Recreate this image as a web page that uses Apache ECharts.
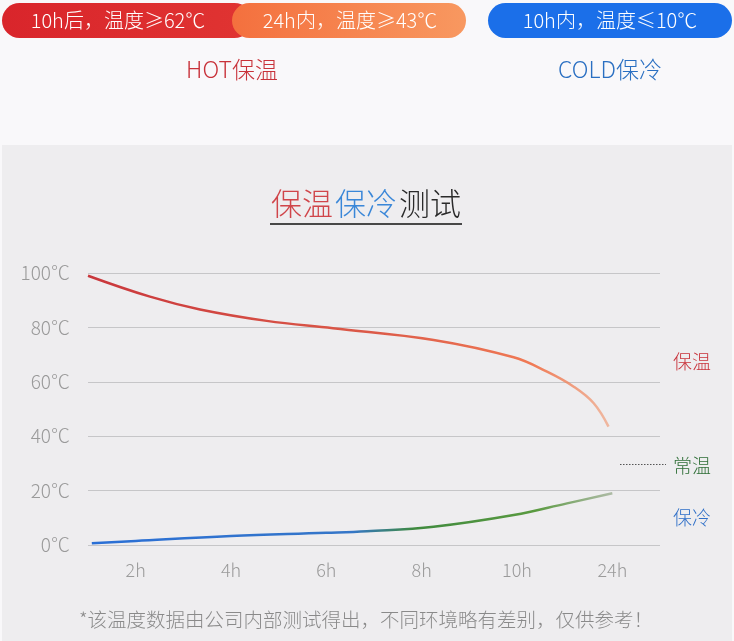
<!DOCTYPE html>
<html><head><meta charset="utf-8">
<script src="https://cdn.jsdelivr.net/npm/echarts@6/dist/echarts.min.js"></script>
<style>html,body{margin:0;padding:0;background:#f9f8fa;}#c{width:734px;height:641px;}</style>
</head><body><div id="c"></div>
<script>
// ---- data ----
var xTickPos = [1, 3, 5, 7, 9, 11];
var xTickLabels = ['2h', '4h', '6h', '8h', '10h', '24h'];
var yTicks = [0, 20, 40, 60, 80, 100];
var hotPos  = [0, 1.3, 2.35, 3.75, 5.14, 7.25, 8.93, 9.63, 10.19, 10.61, 10.92];
var hotTemp = [99, 91.3, 86.6, 82.4, 79.7, 75.4, 69, 63.7, 58.2, 52.1, 43.5];
var coldPos  = [0.08, 1, 3, 5, 5.85, 7.25, 8.93, 10.05, 11];
var coldTemp = [0.6, 1.5, 3.3, 4.5, 5.1, 6.7, 11, 15.3, 19];
var sideLabels = ['保温', '常温', '保冷'];
var pillTexts = ['10h后，温度≥62℃', '24h内，温度≥43℃', '10h内，温度≤10℃'];
var headTexts = ['HOT保温', 'COLD保冷'];
var titleParts = ['保温', '保冷', '测试'];
var footnote = '*该温度数据由公司内部测试得出，不同环境略有差别，仅供参考！';

function zip(a, b) { return a.map(function (v, i) { return [v, b[i]]; }); }

var FONT = '"Noto Sans CJK SC", "Noto Sans", sans-serif';
var chart = echarts.init(document.getElementById('c'), null, {renderer: 'canvas'});

var option = {
  backgroundColor: '#f9f8fa',
  animation: false,
  textStyle: {fontFamily: FONT},
  grid: {left: 88, right: 74, top: 273, bottom: 96, containLabel: false},
  xAxis: {
    type: 'value', min: 0, max: 12, interval: 1,
    axisLine: {show: false}, axisTick: {show: false}, splitLine: {show: false},
    axisLabel: {
      color: '#9a9a9a', fontSize: 18, margin: 16, fontFamily: FONT, fontWeight: 300,
      formatter: function (v) { var i = xTickPos.indexOf(v); return i >= 0 ? xTickLabels[i] : ''; }
    }
  },
  yAxis: {
    type: 'value', min: yTicks[0], max: yTicks[yTicks.length - 1], interval: 20,
    axisLine: {show: false}, axisTick: {show: false},
    splitLine: {lineStyle: {color: '#c6c6c8', width: 1}},
    axisLabel: {color: '#9a9a9a', fontSize: 19, margin: 18, fontFamily: FONT, fontWeight: 300, formatter: '{value}℃'}
  },
  series: [
    {
      type: 'line', data: zip(hotPos, hotTemp), smooth: 0.4, symbol: 'none',
      lineStyle: {width: 2.5, color: new echarts.graphic.LinearGradient(0, 0, 1, 0, [
        {offset: 0, color: '#c9373c'}, {offset: 0.55, color: '#dc5a48'},
        {offset: 0.85, color: '#f07a55'}, {offset: 1, color: 'rgba(240,150,110,0.6)'}])}
    },
    {
      type: 'line', data: zip(coldPos, coldTemp), smooth: 0.4, symbol: 'none',
      lineStyle: {width: 2.5, color: new echarts.graphic.LinearGradient(0, 0, 1, 0, [
        {offset: 0, color: '#2a6fd6'}, {offset: 0.5, color: '#3576c8'},
        {offset: 0.62, color: '#3f8a3e'}, {offset: 0.85, color: '#5a9a40'},
        {offset: 1, color: 'rgba(160,175,150,0.8)'}])}
    }
  ],
  graphic: [
    {type: 'rect', z: -10, shape: {x: 2, y: 145, width: 730, height: 496}, style: {fill: '#eeedef'}},
    // pills
    {type: 'rect', shape: {x: 2, y: 3, width: 250, height: 35, r: 17.5},
      style: {fill: new echarts.graphic.LinearGradient(0, 0, 1, 0, [{offset: 0, color: '#d9252b'}, {offset: 1, color: '#e03432'}])}},
    {type: 'rect', shape: {x: 232, y: 3, width: 234, height: 35, r: 17.5},
      style: {fill: new echarts.graphic.LinearGradient(0, 0, 1, 0, [{offset: 0, color: '#f4703e'}, {offset: 1, color: '#f89860'}])}},
    {type: 'rect', shape: {x: 488, y: 3, width: 244, height: 35, r: 17.5}, style: {fill: '#1b6fe9'}},
    {type: 'text', style: {text: pillTexts[0], x: 118, y: 20.5, align: 'center', verticalAlign: 'middle', fill: '#fff', font: '300 20px ' + FONT}},
    {type: 'text', style: {text: pillTexts[1], x: 350, y: 20.5, align: 'center', verticalAlign: 'middle', fill: '#fff', font: '300 20px ' + FONT}},
    {type: 'text', style: {text: pillTexts[2], x: 610, y: 20.5, align: 'center', verticalAlign: 'middle', fill: '#fff', font: '300 20px ' + FONT}},
    {type: 'text', style: {text: headTexts[0], x: 232, y: 69, align: 'center', verticalAlign: 'middle', fill: '#c8323a', font: '300 23px ' + FONT}},
    {type: 'text', style: {text: headTexts[1], x: 610, y: 69, align: 'center', verticalAlign: 'middle', fill: '#2a6fc2', font: '300 23px ' + FONT}},
    // title
    {type: 'text', style: {text: titleParts[0], x: 302, y: 203, align: 'center', verticalAlign: 'middle', fill: '#d0454a', font: '300 31px ' + FONT}},
    {type: 'text', style: {text: titleParts[1], x: 366, y: 203, align: 'center', verticalAlign: 'middle', fill: '#3a87d8', font: '300 31px ' + FONT}},
    {type: 'text', style: {text: titleParts[2], x: 430, y: 203, align: 'center', verticalAlign: 'middle', fill: '#2a2a2a', font: '300 31px ' + FONT}},
    {type: 'line', shape: {x1: 270, y1: 224, x2: 462, y2: 224}, style: {stroke: '#111', lineWidth: 1.5}},
    // side labels
    {type: 'text', style: {text: sideLabels[0], x: 692, y: 362, align: 'center', verticalAlign: 'middle', fill: '#c8323a', font: '300 19px ' + FONT}},
    {type: 'text', style: {text: sideLabels[1], x: 692, y: 466, align: 'center', verticalAlign: 'middle', fill: '#2e6e36', font: '300 19px ' + FONT}},
    {type: 'text', style: {text: sideLabels[2], x: 692, y: 518, align: 'center', verticalAlign: 'middle', fill: '#2f6fc8', font: '300 19px ' + FONT}},
    {type: 'line', shape: {x1: 620, y1: 464.5, x2: 666, y2: 464.5}, style: {stroke: '#555', lineWidth: 1, lineDash: [1.5, 1.5]}},
    // footnote
    {type: 'text', style: {text: footnote, x: 366, y: 620, align: 'center', verticalAlign: 'middle', fill: '#8a8a8a', font: '300 19.5px ' + FONT}}
  ]
};
chart.setOption(option);
</script></body></html>
